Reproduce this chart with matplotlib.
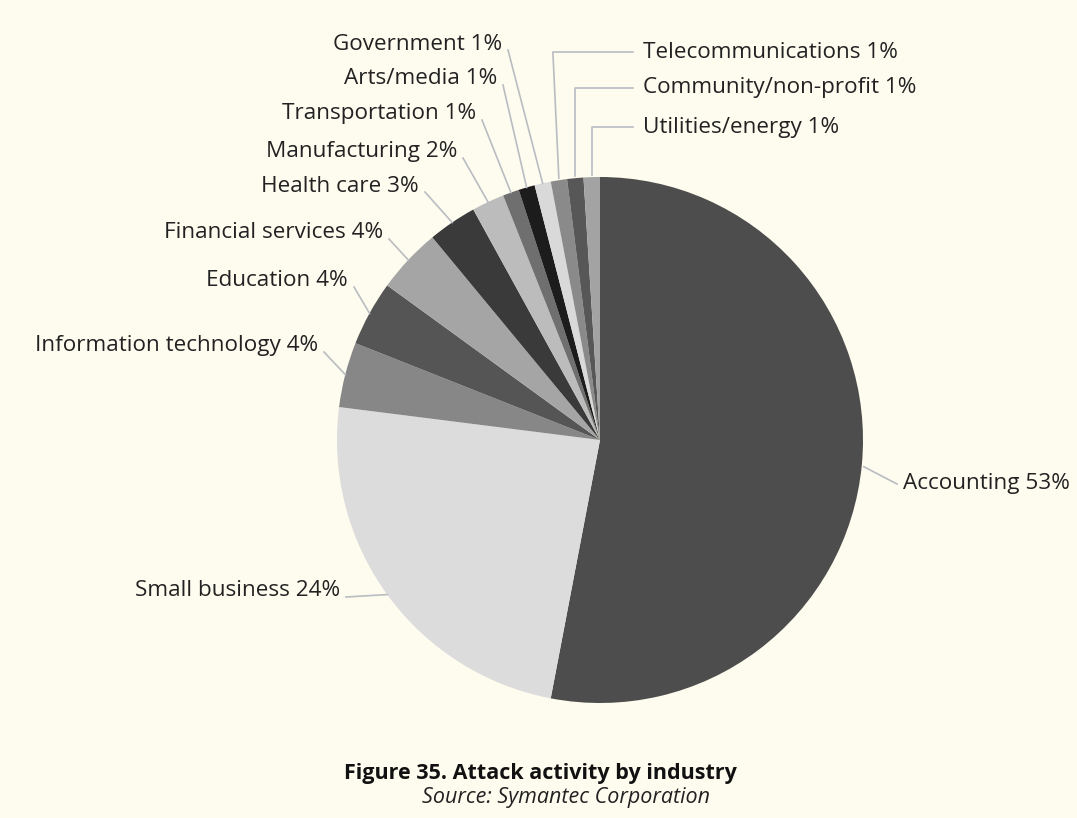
import numpy as np
import matplotlib.pyplot as plt

# data
industries = ['Accounting', 'Small business', 'Information technology', 'Education',
              'Financial services', 'Health care', 'Manufacturing', 'Transportation',
              'Arts/media', 'Government', 'Telecommunications', 'Community/non-profit',
              'Utilities/energy']
shares = [53, 24, 4, 4, 4, 3, 2, 1, 1, 1, 1, 1, 1]
colors = ['#4d4d4d', '#dcdcdc', '#878787', '#555555', '#a5a5a5', '#3a3a3a', '#bcbcbc',
          '#6f6f6f', '#1c1c1c', '#d9d9d9', '#8a8a8a', '#575757', '#a3a3a3']

# label layout in pixel coords (x anchor, y centre, side)
label_pos = [(903, 484, 'right'), (340, 591, 'left'), (318, 346, 'left'), (348, 281, 'left'),
             (383, 233, 'left'), (419, 186, 'left'), (457, 152, 'left'), (476, 114, 'left'),
             (497, 79, 'left'), (502, 44, 'left'), (643, 52, 'elbow'), (643, 88, 'elbow'),
             (643, 127, 'elbow')]

W, H = 1077, 818
bg = '#fefbef'
cx, cy, r = 600, 440, 263

fig = plt.figure(figsize=(W / 100, H / 100), dpi=100, facecolor=bg)
ax = fig.add_axes([0, 0, 1, 1])
ax.set_facecolor(bg)

ax.pie(shares, colors=colors, startangle=90, counterclock=False,
       center=(cx, H - cy), radius=r, wedgeprops=dict(linewidth=0))
ax.set_xlim(0, W)
ax.set_ylim(0, H)
ax.set_aspect('equal')
ax.axis('off')

line_col = '#b9bdc2'
font = 'Open Sans'
fs = 16.2

total = float(sum(shares))
cum = np.cumsum([0] + shares)
for i, name in enumerate(industries):
    mid = (cum[i] + shares[i] / 2) / total * 360
    ex = cx + r * np.sin(np.radians(mid))
    ey = cy - r * np.cos(np.radians(mid))
    tx, ty, side = label_pos[i]
    label = f'{name} {shares[i]}%'
    if side == 'left':
        ax.text(tx, H - ty, label, ha='right', va='center', fontsize=fs,
                family=font, color='#222222')
        ax.plot([tx + 6, ex], [H - ty - 6, H - ey], color=line_col, lw=1.2)
    elif side == 'right':
        ax.text(tx, H - ty, label, ha='left', va='center', fontsize=fs,
                family=font, color='#222222')
        ax.plot([tx - 6, ex + 2], [H - ty, H - ey - 2], color=line_col, lw=1.2)
    else:
        ax.text(tx, H - ty, label, ha='left', va='center', fontsize=fs,
                family=font, color='#222222')
        kx = ex - 6 if i == 10 else ex
        ax.plot([tx - 10, kx, ex], [H - ty, H - ty, H - ey + 2], color=line_col, lw=1.2)

ax.text(540, H - 773, 'Figure 35. Attack activity by industry', ha='center', va='center',
        fontsize=15.5, fontweight='bold', family=font, color='#111111')
ax.text(566, H - 798, 'Source: Symantec Corporation', ha='center', va='center',
        fontsize=15.5, style='italic', family=font, color='#222222')

fig.savefig('out.png', dpi=100, facecolor=bg)
